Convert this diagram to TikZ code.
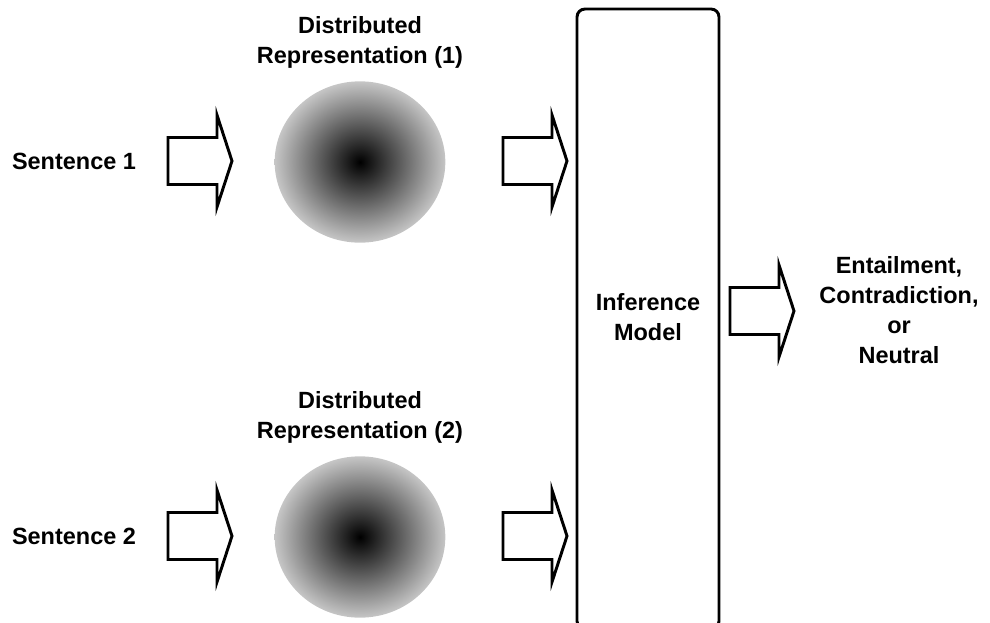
\documentclass[tikz,border=0pt]{standalone}
\usepackage{fontspec}
\setmainfont{Liberation Sans}
\usetikzlibrary{shapes.geometric}

% hollow block arrow, #1 = left end, #2 = middle height
\newcommand{\fatarrow}[2]{
	\pgfmathsetmacro{\FAx}{#1}
	\pgfmathsetmacro{\FAy}{#2}
	\draw[fatline] (\FAx, \FAy-23.5) -- ++(49,0) -- ++(0,-22.5) -- ++(15,46) -- ++(-15,46) -- ++(0,-22.5) -- ++(-49,0) -- cycle;
}

\tikzset{
	fatline/.style={line width=2.2pt, line join=miter, fill=white},
	txt/.style={font=\bfseries\fontsize{17.6}{22.5}\selectfont, align=center, inner sep=0pt},
	blob/.style={ellipse, minimum width=128pt, minimum height=121pt, inner color=black, outer color=gray!45},
	modelbox/.style={draw, line width=2.2pt, rounded corners=6pt, minimum width=106.5pt, minimum height=465pt, align=center}
}

\begin{document}
\begin{tikzpicture}[x=0.75pt, y=-0.75pt]
\useasboundingbox (0,0) rectangle (990,622);

\pgfmathsetmacro{\rowA}{161}
\pgfmathsetmacro{\rowB}{536}

% inputs
\node (sentA) [txt] at (74,\rowA) {Sentence 1};
\node (sentB) [txt] at (74,\rowB) {Sentence 2};

% encodings
\node (repA) [blob] at (360,\rowA+1) {};
\node (repB) [blob] at (360,\rowB+1) {};
\node (repAlbl) [txt] at (360,42) {Distributed\\Representation (1)};
\node (repBlbl) [txt] at (360,417) {Distributed\\Representation (2)};

% classifier
\node (model) [modelbox] at (648,319) {};
\node (modellbl) [txt] at (648,317) {Inference\\Model};

% output
\node (out) [txt] at (899,310) {Entailment,\\Contradiction,\\or\\Neutral};

\fatarrow{168}{\rowA}
\fatarrow{168}{\rowB}
\fatarrow{503}{\rowA}
\fatarrow{503}{\rowB}
\fatarrow{730}{311}
\end{tikzpicture}
\end{document}
